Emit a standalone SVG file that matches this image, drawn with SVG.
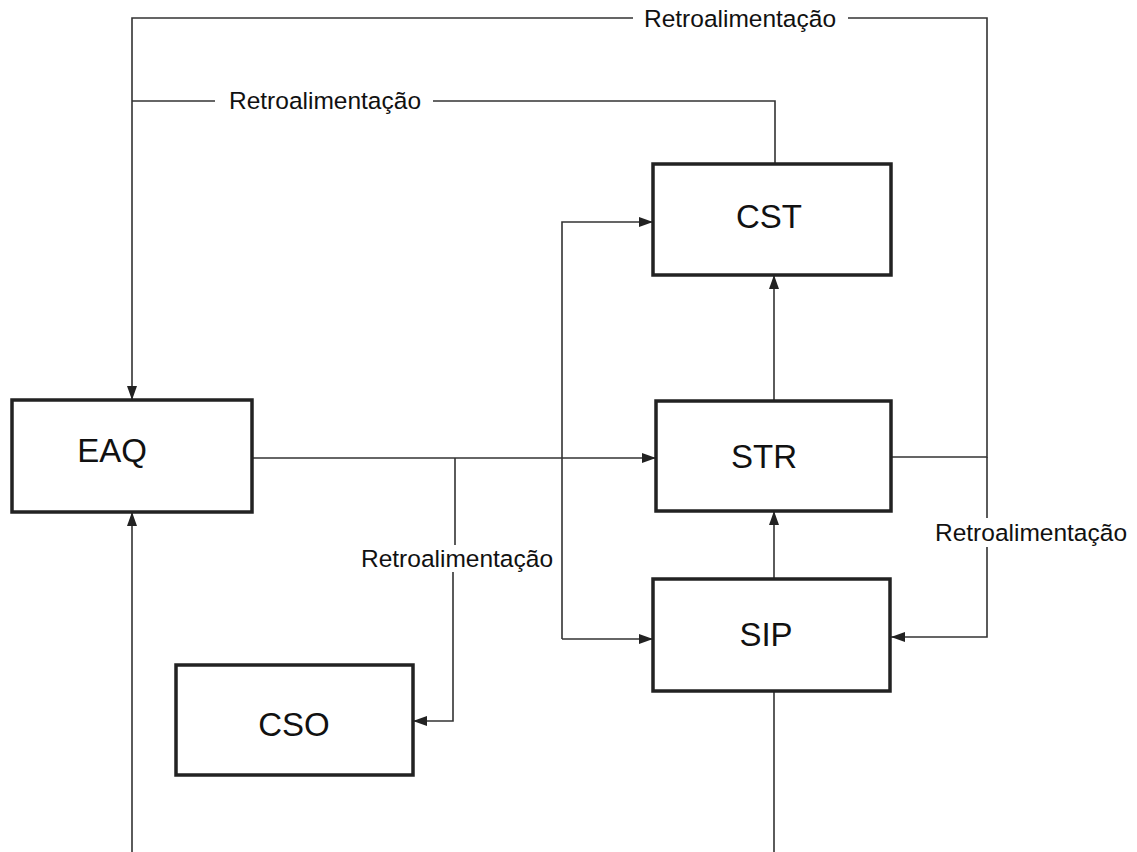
<svg xmlns="http://www.w3.org/2000/svg" width="1137" height="852" viewBox="0 0 1137 852">
<style>
.box{fill:#fff;stroke:#222;stroke-width:3.5}
.lbl{font-family:"Liberation Sans",Arial,sans-serif;font-size:33px;fill:#111;text-anchor:middle}
.fb{font-family:"Liberation Sans",Arial,sans-serif;font-size:24.5px;fill:#111;text-anchor:middle}
.ln{fill:none;stroke:#333;stroke-width:1.6}
</style>
<defs>
<marker id="ah" viewBox="0 0 14 10" refX="14" refY="5" markerWidth="14" markerHeight="10" markerUnits="userSpaceOnUse" orient="auto">
<path d="M0,0 L14,5 L0,10 Z" fill="#222"/>
</marker>
</defs>
<rect width="1137" height="852" fill="#fff"/>
<g id="connectors">
<path class="ln" d="M891,457 H987 V18 H848"/>
<path class="ln" d="M633,18 H132 V400" marker-end="url(#ah)"/>
<path class="ln" d="M775,164 V101 H433"/>
<path class="ln" d="M215,101 H132"/>
<path class="ln" d="M987,457 V518"/>
<path class="ln" d="M987,547 V637 H891" marker-end="url(#ah)"/>
<path class="ln" d="M252,458 H656" marker-end="url(#ah)"/>
<path class="ln" d="M455,458 V545"/>
<path class="ln" d="M453,572 V721 H413" marker-end="url(#ah)"/>
<path class="ln" d="M562,639 V222 H653" marker-end="url(#ah)"/>
<path class="ln" d="M562,639 H653" marker-end="url(#ah)"/>
<path class="ln" d="M774,401 V275" marker-end="url(#ah)"/>
<path class="ln" d="M774,579 V511" marker-end="url(#ah)"/>
<path class="ln" d="M774,852 V691"/>
<path class="ln" d="M132,852 V512" marker-end="url(#ah)"/>
<text class="fb" x="740" y="27">Retroalimentação</text>
<text class="fb" x="325" y="109">Retroalimentação</text>
<text class="fb" x="457" y="567">Retroalimentação</text>
<text class="fb" x="1031" y="541">Retroalimentação</text>
</g>
<g id="EAQ">
<rect class="box" x="12" y="400" width="240" height="112"/>
<text class="lbl" x="112" y="462">EAQ</text>
</g>
<g id="CST">
<rect class="box" x="653" y="164" width="238" height="111"/>
<text class="lbl" x="769" y="228">CST</text>
</g>
<g id="STR">
<rect class="box" x="656" y="401" width="235" height="110"/>
<text class="lbl" x="764" y="468">STR</text>
</g>
<g id="SIP">
<rect class="box" x="653" y="579" width="237" height="112"/>
<text class="lbl" x="766" y="646">SIP</text>
</g>
<g id="CSO">
<rect class="box" x="176" y="665" width="237" height="110"/>
<text class="lbl" x="294" y="736">CSO</text>
</g>
</svg>
